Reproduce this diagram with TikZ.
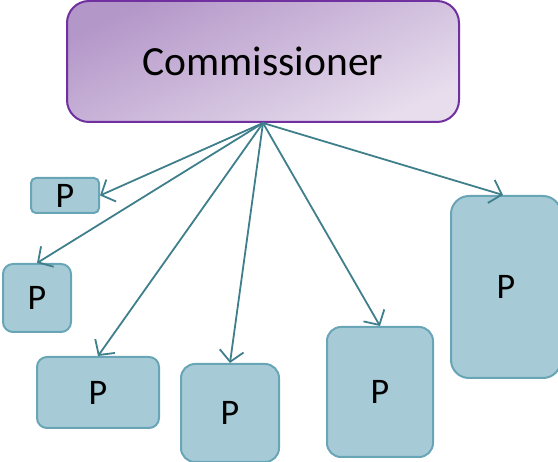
\documentclass[tikz,border=0pt]{standalone}
\usepackage{fontspec}
\setmainfont{Carlito}
\usetikzlibrary{arrows.meta}
\definecolor{pfill}{HTML}{A7CBD6}
\definecolor{pdraw}{HTML}{68A5B7}
\definecolor{arr}{HTML}{3F7F8C}
\definecolor{cdraw}{HTML}{7030A0}
\definecolor{cA}{HTML}{B497C9}
\definecolor{cB}{HTML}{E7DDED}
\tikzset{
  pbox/.style={draw=pdraw, fill=pfill, line width=2pt, inner sep=0pt,
    font=\fontsize{36}{42}\selectfont},
  link/.style={draw=arr, line width=1.8pt, -{Straight Barb[length=11pt,width=24pt,line width=1.8pt]}}
}
\begin{document}
\begin{tikzpicture}[x=1pt,y=-1pt]
\useasboundingbox (0,0) rectangle (558,462);
\node[draw=cdraw, line width=2pt, rounded corners=22pt, top color=cA, bottom color=cB, shading angle=25,
  minimum width=392pt, minimum height=121pt, inner sep=0pt, font=\fontsize{41.5}{48}\selectfont]
  (comm) at (263,61.5) {Commissioner};
\node[pbox, rounded corners=5pt, minimum width=68pt, minimum height=35pt] (p1) at (65,195.5) {P};
\node[pbox, rounded corners=10pt, minimum width=68pt, minimum height=68pt] (p2) at (37,298) {P};
\node[pbox, rounded corners=10pt, minimum width=122pt, minimum height=71pt] (p3) at (98,392.5) {P};
\node[pbox, rounded corners=14pt, minimum width=98pt, minimum height=98pt] (p4) at (230,413) {P};
\node[pbox, rounded corners=14pt, minimum width=106pt, minimum height=130pt] (p5) at (380,392) {P};
\node[pbox, rounded corners=18pt, minimum width=110pt, minimum height=182pt] (p6) at (506,287) {P};
\coordinate (o) at (comm.south);
\draw[link] (o) -- (p1.east);
\draw[link] (o) -- (p2.north);
\draw[link] (o) -- (p3.north);
\draw[link] (o) -- (p4.north);
\draw[link] (o) -- (p5.north);
\draw[link] (o) -- ([xshift=-3pt]p6.north);
\end{tikzpicture}
\end{document}
